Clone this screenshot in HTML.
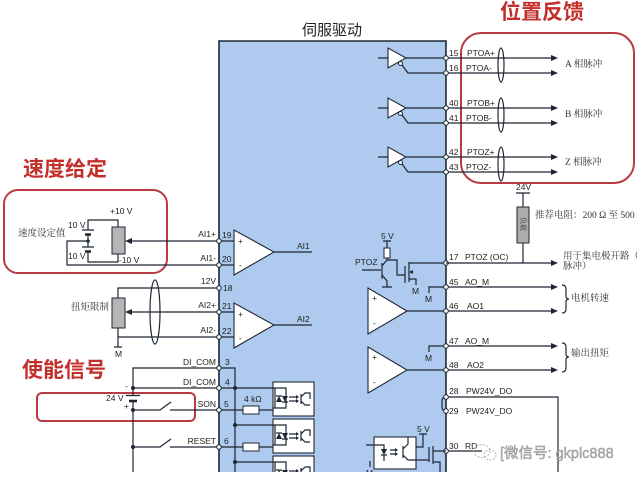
<!DOCTYPE html>
<html><head><meta charset="utf-8">
<style>
html,body{margin:0;padding:0;background:#fff;}
svg{display:block;}
text{font-family:"Liberation Sans","Noto Sans CJK SC",sans-serif;fill:#222;font-size:8.5px;}
.cn{font-family:"Liberation Serif","Noto Serif CJK SC",serif;fill:#333;font-size:9.5px;}
.red{font-family:"Liberation Sans","Noto Sans CJK SC",sans-serif;font-weight:bold;fill:#c3302c;font-size:21px;}
.l{fill:none;stroke:#1f2633;stroke-width:1.2;}
.pc{fill:#fff;stroke:#1f2633;stroke-width:1;}
.ah{fill:#1f2633;}
.rb{fill:none;stroke:#b83a45;stroke-width:2;}
</style></head><body>
<svg width="637" height="482" viewBox="0 0 637 482">
<defs>
<g id="opto">
  <rect x="0" y="0" width="41" height="34" fill="#fff" stroke="#1f2633" stroke-width="1.1"/>
  <path class="l" d="M0 6 H13 V26 H0 M2 6 V26"/>
  <polygon class="ah" points="3,20 9,20 6,14"/>
  <polygon class="ah" points="9,14 15,14 12,20"/>
  <path class="l" d="M3 14 H9 M9 20 H15"/>
  <path class="l" d="M16 15 H23 M16 19 H23"/>
  <polygon class="ah" points="23,13 26,15 23,17"/>
  <polygon class="ah" points="23,17 26,19 23,21"/>
  <path class="l" d="M28 12 V22 M28 15 L32 11 H37 V17 M28 19 L32 23 H37"/>
</g>
</defs>

<!-- blue drive box -->
<rect x="219" y="41" width="227" height="441" fill="#aecaee"/>
<path d="M219 482 V41 H446 V482" fill="none" stroke="#1f2633" stroke-width="1.6"/>

<!-- titles -->
<text x="302" y="35" style="font-size:15px;font-family:'Liberation Sans','Noto Sans CJK SC',sans-serif;fill:#222">伺服驱动</text>
<text class="red" x="500" y="19">位置反馈</text>
<text class="red" x="23" y="176">速度给定</text>
<text class="red" x="22" y="377">使能信号</text>

<!-- red boxes -->
<rect class="rb" x="461" y="33" width="173" height="150" rx="20"/>
<rect class="rb" x="4" y="190" width="163" height="83" rx="14"/>
<rect class="rb" x="37" y="393" width="158" height="28" rx="5"/>

<!-- top line drivers -->
<g>
  <path class="l" d="M378 58 H388 M406 58 H552 M402 65 L408 73 H552"/>
  <polygon points="388,48 388,68 406,58" fill="#fff" stroke="#1f2633" stroke-width="1.1"/>
  <circle cx="400.5" cy="63.5" r="2" class="pc"/>
  <polygon class="ah" points="551,55 558,58 551,61"/>
  <polygon class="ah" points="551,70 558,73 551,76"/>
  <ellipse cx="501" cy="65" rx="3" ry="17" class="l"/>
  <circle cx="446" cy="58" r="2.3" class="pc"/><circle cx="446" cy="73" r="2.3" class="pc"/>
  <text x="449" y="56">15</text><text x="467" y="56">PTOA+</text>
  <text x="449" y="71">16</text><text x="466" y="71">PTOA-</text>
  <text class="cn" x="565" y="67">A  相脉冲</text>
</g>
<g>
  <path class="l" d="M378 108 H388 M406 108 H552 M402 115 L408 123 H552"/>
  <polygon points="388,98 388,118 406,108" fill="#fff" stroke="#1f2633" stroke-width="1.1"/>
  <circle cx="400.5" cy="113.5" r="2" class="pc"/>
  <polygon class="ah" points="551,105 558,108 551,111"/>
  <polygon class="ah" points="551,120 558,123 551,126"/>
  <ellipse cx="501" cy="115" rx="3" ry="17" class="l"/>
  <circle cx="446" cy="108" r="2.3" class="pc"/><circle cx="446" cy="123" r="2.3" class="pc"/>
  <text x="449" y="106">40</text><text x="467" y="106">PTOB+</text>
  <text x="449" y="121">41</text><text x="466" y="121">PTOB-</text>
  <text class="cn" x="565" y="117">B  相脉冲</text>
</g>
<g>
  <path class="l" d="M378 157 H388 M406 157 H552 M402 164 L408 172 H552"/>
  <polygon points="388,147 388,167 406,157" fill="#fff" stroke="#1f2633" stroke-width="1.1"/>
  <circle cx="400.5" cy="162.5" r="2" class="pc"/>
  <polygon class="ah" points="551,154 558,157 551,160"/>
  <polygon class="ah" points="551,169 558,172 551,175"/>
  <ellipse cx="501" cy="164" rx="3" ry="17" class="l"/>
  <circle cx="446" cy="157" r="2.3" class="pc"/><circle cx="446" cy="172" r="2.3" class="pc"/>
  <text x="449" y="155">42</text><text x="467" y="155">PTOZ+</text>
  <text x="449" y="170">43</text><text x="466" y="170">PTOZ-</text>
  <text class="cn" x="565" y="165">Z  相脉冲</text>
</g>

<!-- 24V load resistor -->
<text x="516" y="190">24V</text>
<path class="l" d="M516 193 H530 M523 193 V207 M523 243 V263"/>
<rect x="517" y="207" width="12" height="36" fill="#adadad" stroke="#1f2633" stroke-width="1"/>
<text class="cn" transform="translate(521,217) rotate(90)" style="font-size:7px">负载</text>
<text class="cn" x="535" y="218">推荐电阻：200 Ω 至 500</text>

<!-- PTOZ OC circuit -->
<text x="381" y="239">5 V</text>
<path class="l" d="M383 241 H391 M387 241 V248 M387 258 V260 M362 270 H381 M382 263 V279 M382 266 L387 260 H397 V275 H405 M382 275 L387 281 V287 M382 287 H392"/>
<rect x="384" y="248" width="6" height="10" fill="#fff" stroke="#1f2633" stroke-width="1"/>
<path class="l" d="M405 266 V283 M409 262 V282 M409 263 H446 M409 279 H416 V285"/>
<polygon class="ah" points="409,272 413,270 413,274"/>
<text x="355" y="265">PTOZ</text>
<text x="412" y="294">M</text>
<circle cx="446" cy="263" r="2.3" class="pc"/>
<path class="l" d="M446 263 H552"/>
<polygon class="ah" points="551,260 558,263 551,266"/>
<text x="449" y="260">17</text><text x="465" y="260">PTOZ (OC)</text>
<text class="cn" x="563" y="259">用于集电极开路（</text>
<text class="cn" x="563" y="269">脉冲）</text>

<!-- AO outputs -->
<polygon points="368,288 368,334 407,311" fill="#fff" stroke="#1f2633" stroke-width="1.1"/>
<text x="372" y="301">+</text><text x="373" y="326">-</text>
<polygon points="368,347 368,393 407,370" fill="#fff" stroke="#1f2633" stroke-width="1.1"/>
<text x="372" y="360">+</text><text x="373" y="385">-</text>
<path class="l" d="M446 287 H552 M446 287 H429 V293 M407 311 H552 M446 346 H552 M446 346 H429 V352 M407 370 H552"/>
<text x="425" y="302">M</text><text x="425" y="361">M</text>
<polygon class="ah" points="551,284 558,287 551,290"/>
<polygon class="ah" points="551,308 558,311 551,314"/>
<polygon class="ah" points="551,343 558,346 551,349"/>
<polygon class="ah" points="551,367 558,370 551,373"/>
<circle cx="446" cy="287" r="2.3" class="pc"/><circle cx="446" cy="311" r="2.3" class="pc"/>
<circle cx="446" cy="346" r="2.3" class="pc"/><circle cx="446" cy="370" r="2.3" class="pc"/>
<text x="449" y="285">45</text><text x="465" y="285">AO_M</text>
<text x="449" y="309">46</text><text x="467" y="309">AO1</text>
<text x="449" y="344">47</text><text x="465" y="344">AO_M</text>
<text x="449" y="368">48</text><text x="467" y="368">AO2</text>
<path class="l" d="M562 285 Q566 285 566 289 V296 Q566 299 569 299 Q566 299 566 302 V309 Q566 313 562 313"/>
<path class="l" d="M562 343 Q566 343 566 347 V354 Q566 357 569 357 Q566 357 566 360 V368 Q566 372 562 372"/>
<text class="cn" x="571" y="301">电机转速</text>
<text class="cn" x="571" y="356">输出扭矩</text>

<!-- 28/29/30 -->
<path class="l" d="M446 397 H558 V482 M446 397 Q442 397 442 401 V407 Q442 411 446 411"/>
<circle cx="446" cy="397" r="2.3" class="pc"/><circle cx="446" cy="411" r="2.3" class="pc"/>
<text x="449" y="394">28</text><text x="466" y="394">PW24V_DO</text>
<text x="449" y="414">29</text><text x="466" y="414">PW24V_DO</text>
<path class="l" d="M446 451 H482"/>
<circle cx="446" cy="451" r="2.3" class="pc"/>
<text x="449" y="449">30</text><text x="465" y="449">RD</text>

<!-- bottom right opto + mosfet -->
<rect x="374" y="437" width="42" height="32" fill="#fff" stroke="#1f2633" stroke-width="1.1"/>
<path class="l" d="M366 445 H384 V449 M384 455 V461 M370 461 V467"/>
<polygon class="ah" points="381,449 387,449 384,455"/>
<path class="l" d="M381 455 H387 M390 450 H396 M390 454 H396 M403 446 V458 M403 449 L408 444 V437 M403 455 L408 460 H416"/>
<polygon class="ah" points="395,448 398,450 395,452"/>
<polygon class="ah" points="395,452 398,454 395,456"/>
<text x="366" y="476">M</text>
<text x="417" y="432">5 V</text>
<path class="l" d="M419 434 H427 M423 434 V447 H416 M416 460 H429 M429 447 V462 M433 446 V464 M433 451 H446 M433 462 H440 V482"/>

<!-- left opamps -->
<polygon points="234,230 234,275 274,252" fill="#fff" stroke="#1f2633" stroke-width="1.1"/>
<text x="238" y="244">+</text><text x="239" y="268">-</text>
<polygon points="234,303 234,348 274,325" fill="#fff" stroke="#1f2633" stroke-width="1.1"/>
<text x="238" y="317">+</text><text x="239" y="341">-</text>
<path class="l" d="M274 252 H312 M274 325 H312 M219 241 H234 M219 265 H234 M219 312 H234 M219 337 H234"/>
<text x="297" y="249">AI1</text><text x="297" y="322">AI2</text>

<!-- left pin labels -->
<text x="216" y="237" text-anchor="end">AI1+</text><text x="222" y="238">19</text>
<text x="216" y="261" text-anchor="end">AI1-</text><text x="222" y="262">20</text>
<text x="216" y="284" text-anchor="end">12V</text><text x="223" y="291">18</text>
<text x="216" y="308" text-anchor="end">AI2+</text><text x="222" y="309">21</text>
<text x="216" y="333" text-anchor="end">AI2-</text><text x="222" y="334">22</text>
<text x="216" y="365" text-anchor="end">DI_COM</text><text x="225" y="365">3</text>
<text x="216" y="385" text-anchor="end">DI_COM</text><text x="225" y="385">4</text>
<text x="216" y="407" text-anchor="end">SON</text><text x="224" y="407">5</text>
<text x="216" y="444" text-anchor="end">RESET</text><text x="224" y="444">6</text>

<!-- speed set circuit -->
<text class="cn" x="18" y="236">速度设定值</text>
<text x="110" y="214">+10 V</text>
<text x="68" y="228">10 V</text>
<text x="68" y="259">10 V</text>
<text x="119" y="263">-10 V</text>
<path class="l" d="M88 230 V220 H118 V227 M88 234 V247 M88 251 V262 H118 V254 M88 241 H67 V265 H219 M219 241 H131"/>
<path d="M82 230 H94 M82 247 H94" stroke="#1f2633" stroke-width="1.3"/>
<path d="M85 234.5 H91 M85 251.5 H91" stroke="#1f2633" stroke-width="2.4"/>
<circle cx="88" cy="241" r="1.8" class="ah"/>
<rect x="112" y="227" width="13" height="27" fill="#b5b5b5" stroke="#1f2633" stroke-width="1"/>
<polygon class="ah" points="132,238 125,241 132,244"/>

<!-- torque limit circuit -->
<text class="cn" x="71" y="310">扭矩限制</text>
<path class="l" d="M219 288 H118 V298 M118 328 V347 M114 347 H122 M219 337 H118 M219 312 H131"/>
<rect x="112" y="298" width="13" height="30" fill="#b5b5b5" stroke="#1f2633" stroke-width="1"/>
<polygon class="ah" points="132,309 125,312 132,315"/>
<ellipse cx="155" cy="312" rx="5" ry="32" class="l"/>
<text x="115" y="357">M</text>

<!-- enable circuit -->
<path class="l" d="M219 368 H133 V395 M133 401 V482 M219 388 H133 M133 410 H160 L171 402 M170 410 H219 M133 447 H160 L171 439 M170 447 H219"/>
<path d="M126 395.5 H140" stroke="#1f2633" stroke-width="1.3"/>
<path d="M129 401 H137" stroke="#1f2633" stroke-width="2.6"/>
<circle cx="133" cy="388" r="2" class="ah"/>
<circle cx="133" cy="410" r="2" class="ah"/>
<circle cx="133" cy="447" r="2" class="ah"/>
<text x="125" y="389">-</text>
<text x="124" y="409">+</text>
<text x="106" y="401">24 V</text>

<!-- internal DI bus -->
<path class="l" d="M219 368 H235 V482 M219 388 H273 M235 425 H273 M235 462 H273 M219 410 H243 M259 410 H273 M219 447 H243 M259 447 H273"/>
<circle cx="235" cy="388" r="2" class="ah"/>
<circle cx="235" cy="425" r="2" class="ah"/>
<circle cx="235" cy="462" r="2" class="ah"/>
<rect x="243" y="406" width="16" height="8" fill="#fff" stroke="#1f2633" stroke-width="1"/>
<rect x="243" y="443" width="16" height="8" fill="#fff" stroke="#1f2633" stroke-width="1"/>
<text x="244" y="402">4 kΩ</text>
<use href="#opto" x="273" y="382"/>
<use href="#opto" x="273" y="419"/>
<use href="#opto" x="273" y="456"/>

<!-- pin circles left -->
<circle cx="219" cy="241" r="2.3" class="pc"/>
<circle cx="219" cy="265" r="2.3" class="pc"/>
<circle cx="219" cy="288" r="2.3" class="pc"/>
<circle cx="219" cy="312" r="2.3" class="pc"/>
<circle cx="219" cy="337" r="2.3" class="pc"/>
<circle cx="219" cy="368" r="2.3" class="pc"/>
<circle cx="219" cy="388" r="2.3" class="pc"/>
<circle cx="219" cy="410" r="2.3" class="pc"/>
<circle cx="219" cy="447" r="2.3" class="pc"/>

<!-- bottom white strip -->
<rect x="0" y="472" width="637" height="10" fill="#fff"/>

<!-- watermark -->
<g opacity="0.9">
  <ellipse cx="482" cy="451" rx="8" ry="6.5" fill="none" stroke="#aaa" stroke-width="1" stroke-dasharray="2 1.5"/>
  <ellipse cx="490" cy="455" rx="6" ry="5" fill="none" stroke="#aaa" stroke-width="1" stroke-dasharray="2 1.5"/>
  <text x="500" y="458" style="font-size:14.5px;fill:#a8a8a8;stroke:#888;stroke-width:0.4">[微信号: gkplc888</text>
</g>
</svg>
</body></html>
